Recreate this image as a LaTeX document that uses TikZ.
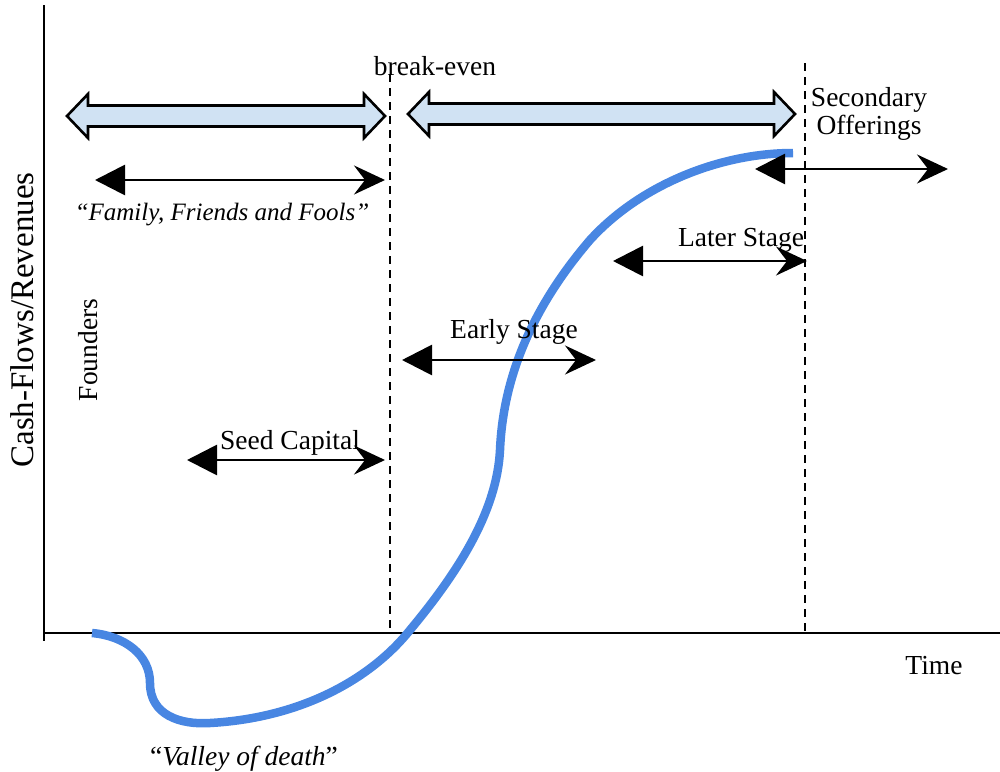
\documentclass[tikz,border=0pt]{standalone}
\usepackage{fontspec}
\setmainfont{Liberation Serif}
\usetikzlibrary{arrows.meta}

\definecolor{curveblue}{RGB}{72,134,226}
\definecolor{phasefill}{RGB}{208,226,243}

\tikzset{
  axisline/.style={line width=2.2pt, black},
  guideline/.style={line width=2.2pt, black, dash pattern=on 8pt off 6pt},
  flowarrow/.style={line width=2.8pt,
    {Triangle[length=30pt,width=30pt]}-{Stealth[length=31pt,width=29pt,inset=11pt]}},
  phasearrow/.style={line width=2.6pt, draw=black, fill=phasefill, line join=miter},
  lbl/.style={inner sep=0pt, font=\fontsize{27.5}{28}\selectfont},
  ilbl/.style={inner sep=0pt, font=\fontsize{25}{28}\selectfont\itshape},
  growth/.style={line width=8.5pt, curveblue},
}

% hollow double-headed arrow: left tip x, right tip x, centre y
\newcommand{\phasearrow}[3]{%
  \filldraw[phasearrow] (#1,#3) -- (#1+21,#3-22) -- (#1+21,#3-10.5)
    -- (#2-21,#3-10.5) -- (#2-21,#3-22) -- (#2,#3) -- (#2-21,#3+22)
    -- (#2-21,#3+10.5) -- (#1+21,#3+10.5) -- (#1+21,#3+22) -- cycle;}

\begin{document}
\begin{tikzpicture}[x=1pt,y=-1pt]
\useasboundingbox (0,0) rectangle (1000,771);

% axes
\coordinate (ytop) at (44,5);
\coordinate (ybot) at (44,641);
\coordinate (xl) at (44,633);
\coordinate (xr) at (1000,633);
\draw[axisline] (ytop) -- (ybot);
\draw[axisline] (xl) -- (xr);

% break-even and secondary offering markers
\coordinate (be1) at (390,74);
\coordinate (be2) at (390,633);
\coordinate (so1) at (805,63);
\coordinate (so2) at (805,633);
\draw[guideline] (be1) -- (be2);
\draw[guideline] (so1) -- (so2);

% funding phases
\phasearrow{67}{385}{116}
\phasearrow{408}{795}{114}

% growth curve
\draw[growth] (92,633) .. controls (125,636) and (150,655) .. (150,683)
  .. controls (150,715) and (180,725) .. (210,723)
  .. controls (300,718) and (370,680) .. (410,630)
  .. controls (460,570) and (497,510) .. (500,450)
  .. controls (503,380) and (530,310) .. (590,240)
  .. controls (640,185) and (720,153) .. (793,153);

% funding sources
\coordinate (fffL) at (95,180);   \coordinate (fffR) at (385,180);
\coordinate (seedL) at (187,460); \coordinate (seedR) at (385,460);
\coordinate (earlyL) at (402,360); \coordinate (earlyR) at (596,360);
\coordinate (laterL) at (613,261); \coordinate (laterR) at (807,261);
\coordinate (secL) at (755,169);  \coordinate (secR) at (948,169);
\draw[flowarrow] (fffL) -- (fffR);
\draw[flowarrow] (seedL) -- (seedR);
\draw[flowarrow] (earlyL) -- (earlyR);
\draw[flowarrow] (laterL) -- (laterR);
\draw[flowarrow] (secL) -- (secR);

% labels
\node[lbl, anchor=base] (breakeven) at (435,75) {break-even};
\node[lbl, align=center] (secondary) at (869,114) {Secondary\\Offerings};
\node[ilbl, anchor=base] (fff) at (222,220) {``Family, Friends and Fools''};
\node[lbl, anchor=base] (later) at (741,246) {Later Stage};
\node[lbl, anchor=base] (early) at (514,338) {Early Stage};
\node[lbl, anchor=base] (seed) at (290,449) {Seed Capital};
\node[lbl, anchor=base] (time) at (934,674) {Time};
\node[lbl, anchor=base] (valley) at (244,765) {``\textit{Valley of death}''};
\node[lbl, anchor=base, rotate=90] (founders) at (97,350) {Founders};
\node[inner sep=0pt, font=\fontsize{33}{34}\selectfont, anchor=base, rotate=90]
  (yaxis) at (33,320) {Cash-Flows/Revenues};
\end{tikzpicture}
\end{document}
